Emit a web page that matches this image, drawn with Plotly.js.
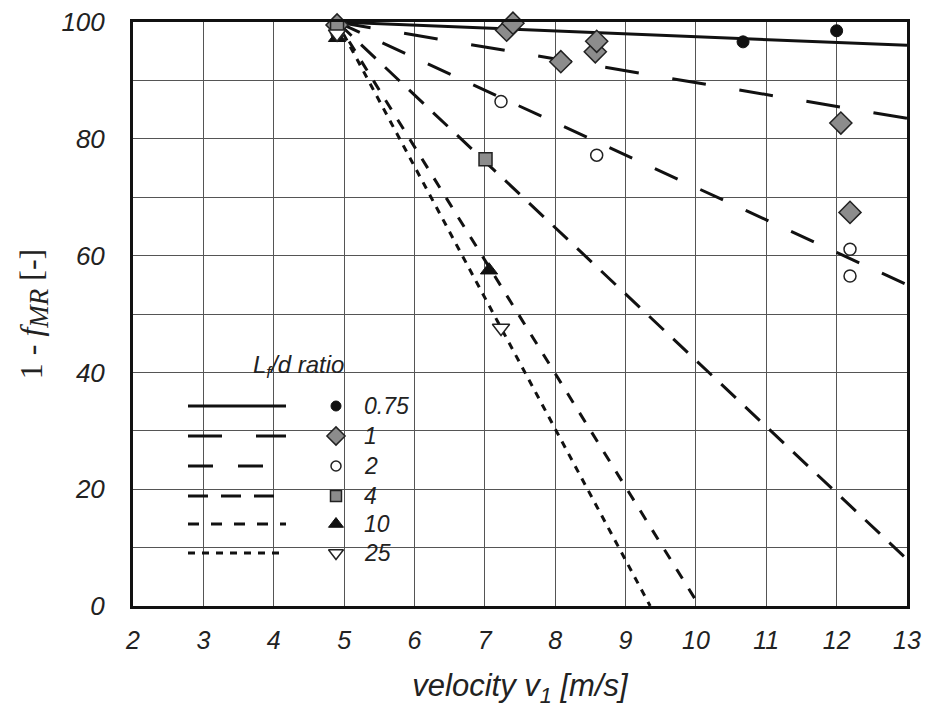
<!DOCTYPE html>
<html>
<head>
<meta charset="utf-8">
<script src="https://cdn.plot.ly/plotly-3.0.1.min.js"></script>
<style>html,body{margin:0;padding:0;background:#fff;}#chart{width:928px;height:715px;}</style>
</head>
<body>
<div id="chart"></div>
<script>
// ---- Data ----
const ratioLabels = ['0.75', '1', '2', '4', '10', '25'];

// fitted trend lines (start / end points)
const lineX_075 = [4.9, 13];   const lineY_075 = [100, 96];
const lineX_1   = [4.9, 13];   const lineY_1   = [100, 83.5];
const lineX_2   = [4.9, 13];   const lineY_2   = [100, 55];
const lineX_4   = [4.9, 13];   const lineY_4   = [100, 8];
const lineX_10  = [4.9, 10.05]; const lineY_10 = [100, 0];
const lineX_25  = [4.9, 9.35];  const lineY_25 = [100, 0];

// measured points
const ptsX_075 = [4.9, 10.67, 12.0];
const ptsY_075 = [99.6, 96.6, 98.5];
const ptsX_1 = [4.9, 7.31, 7.40, 8.08, 8.57, 8.59, 12.06, 12.19];
const ptsY_1 = [99.5, 98.6, 99.8, 93.2, 94.9, 96.7, 82.7, 67.4];
const ptsX_2 = [4.9, 7.23, 8.59, 12.19, 12.19];
const ptsY_2 = [98.0, 86.4, 77.2, 61.1, 56.5];
const ptsX_4 = [4.9, 7.01];
const ptsY_4 = [99.2, 76.5];
const ptsX_10 = [4.9, 7.06];
const ptsY_10 = [97.3, 57.5];
const ptsX_25 = [4.9, 7.23];
const ptsY_25 = [98.0, 47.6];

const yTickVals = [0, 20, 40, 60, 80, 100];
const yTickLabels = ['0', '20', '40', '60', '80', '100'];
const xTickVals = [2, 3, 4, 5, 6, 7, 8, 9, 10, 11, 12, 13];
const xTickLabels = ['2', '3', '4', '5', '6', '7', '8', '9', '10', '11', '12', '13'];

// ---- Styles ----
const FONT = 'Liberation Sans, Arial, sans-serif';
const GRID = '#555';
const dashes = ['solid', '34px,34px', '25px,25px', '20px,13px', '11px,12px', '7px,7px'];
const markerStyles = [
  {symbol: 'circle', size: 12, color: '#111', line: {color: '#111', width: 1}},
  {symbol: 'diamond', size: 17, color: '#8c8c8c', line: {color: '#222', width: 1.5}},
  {symbol: 'circle', size: 12, color: '#fff', line: {color: '#222', width: 1.5}},
  {symbol: 'square', size: 13, color: '#8c8c8c', line: {color: '#222', width: 1.5}},
  {symbol: 'triangle-up', size: 15, color: '#111', line: {color: '#111', width: 1}},
  {symbol: 'triangle-down', size: 15, color: '#fff', line: {color: '#222', width: 1.5}}
];

const linesX = [lineX_075, lineX_1, lineX_2, lineX_4, lineX_10, lineX_25];
const linesY = [lineY_075, lineY_1, lineY_2, lineY_4, lineY_10, lineY_25];
const ptsX = [ptsX_075, ptsX_1, ptsX_2, ptsX_4, ptsX_10, ptsX_25];
const ptsY = [ptsY_075, ptsY_1, ptsY_2, ptsY_4, ptsY_10, ptsY_25];

const traces = [];
for (let i = 0; i < 6; i++) {
  traces.push({
    x: linesX[i], y: linesY[i], mode: 'lines', type: 'scatter',
    line: {color: '#111', width: 3, dash: dashes[i]},
    showlegend: false, hoverinfo: 'skip'
  });
}
for (let i = 0; i < 6; i++) {
  traces.push({
    x: ptsX[i], y: ptsY[i], mode: 'markers', type: 'scatter',
    marker: markerStyles[i], showlegend: false, cliponaxis: false,
    name: ratioLabels[i]
  });
}

// ---- Custom legend on a pixel-scaled overlay axis ----
const PL = 133, PR = 907, PT = 22, PB = 606;
const legRowsY = [406, 436, 466, 496, 524, 553];
const legLineX0 = 188, legLineX1 = 286, legMarkX = 336, legTextX = 362;
for (let i = 0; i < 6; i++) {
  traces.push({
    x: [legLineX0, legLineX1], y: [legRowsY[i], legRowsY[i]], xaxis: 'x2', yaxis: 'y2',
    mode: 'lines', line: {color: '#111', width: 3, dash: dashes[i]},
    showlegend: false, hoverinfo: 'skip'
  });
  const ms = Object.assign({}, markerStyles[i]);
  ms.size = Math.round(ms.size * 0.85);
  traces.push({
    x: [legMarkX], y: [legRowsY[i]], xaxis: 'x2', yaxis: 'y2',
    mode: 'markers', marker: ms, showlegend: false, hoverinfo: 'skip'
  });
}
const annotations = ratioLabels.map((t, i) => ({
  x: legTextX, y: legRowsY[i], xref: 'x2', yref: 'y2', text: t,
  showarrow: false, xanchor: 'left', yanchor: 'middle',
  font: {family: FONT, size: 23, color: '#222', style: 'italic'}
}));
annotations.push({
  x: 298, y: 366, xref: 'x2', yref: 'y2', text: 'L<sub>f</sub>/d ratio',
  showarrow: false, xanchor: 'center', yanchor: 'middle',
  font: {family: FONT, size: 24, color: '#222', style: 'italic'}
});

const layout = {
  width: 928, height: 715,
  margin: {l: PL, r: 928 - PR, t: PT, b: 715 - PB},
  paper_bgcolor: '#fff', plot_bgcolor: '#fff',
  showlegend: false,
  font: {family: FONT, color: '#222'},
  xaxis: {
    range: [2, 13], tickmode: 'array', tickvals: xTickVals, ticktext: xTickLabels,
    showgrid: true, gridcolor: GRID, gridwidth: 1,
    zeroline: false, showline: true, linecolor: '#111', linewidth: 3, mirror: true,
    ticks: '', ticklabelstandoff: 10,
    tickfont: {family: FONT, size: 25, color: '#222', style: 'italic'},
    title: {text: 'velocity v<sub>1</sub> [m/s]', standoff: 22,
            font: {family: FONT, size: 31, color: '#222', style: 'italic'}}
  },
  yaxis: {
    range: [0, 100], tickmode: 'array', tickvals: yTickVals, ticktext: yTickLabels,
    showgrid: true, gridcolor: GRID, gridwidth: 1,
    minor: {tickmode: 'linear', tick0: 0, dtick: 10, showgrid: true, gridcolor: GRID, gridwidth: 1, ticks: ''},
    zeroline: false, showline: true, linecolor: '#111', linewidth: 3, mirror: true,
    ticks: '', ticklabelstandoff: 20,
    tickfont: {family: FONT, size: 26, color: '#222', style: 'italic'},
    title: {text: '1 - <i>f<sub><span style="font-size:27px">MR</span></sub></i> [-]', standoff: 10,
            font: {family: 'Liberation Serif, Times New Roman, serif', size: 32, color: '#222'}}
  },
  xaxis2: {overlaying: 'x', range: [PL, PR], visible: false, showgrid: false, zeroline: false, fixedrange: true},
  yaxis2: {overlaying: 'y', range: [PB, PT], visible: false, showgrid: false, zeroline: false, fixedrange: true},
  annotations: annotations
};

Plotly.newPlot('chart', traces, layout, {displayModeBar: false, staticPlot: true});
</script>
</body>
</html>
